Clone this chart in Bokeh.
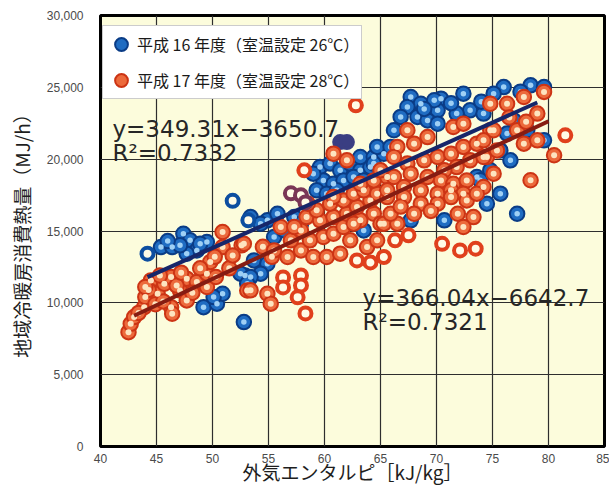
from bokeh.plotting import figure
from bokeh.models import (Range1d, NumeralTickFormatter, FixedTicker, Label,
                          Legend, LegendItem)
from bokeh.embed import file_html
from bokeh.resources import INLINE

# ---------------- data ----------------
x_ticks = [40, 45, 50, 55, 60, 65, 70, 75, 80, 85]
y_ticks = [0, 5000, 10000, 15000, 20000, 25000, 30000]

# 平成16年度 (blue)
h16_x = [45.4, 46.4, 47.4, 48.0, 48.6, 49.5, 47.7, 48.9, 47.1, 46.0,
         49.2, 50.4, 50.9, 50.1, 52.8, 52.9,
         53.4, 54.9, 55.8, 57.3, 57.9, 55.5, 56.4, 54.3, 53.7, 54.9, 54.3, 52.5, 53.4, 53.1,
         59.6, 60.5, 61.4, 62.3, 63.2, 64.1, 59.9, 60.8, 61.7, 62.6, 63.5, 59.3, 60.2,
         61.1, 63.2, 64.4, 59.0,
         63.5, 67.7, 70.7, 74.5,
         67.7, 68.6, 67.4, 70.4, 70.1, 72.4, 73.0, 71.8, 66.2, 66.8, 68.3, 69.2, 70.1,
         65.3, 64.7, 65.9, 64.4, 73.6, 69.8, 71.3, 68.9,
         76.0, 78.4, 79.6, 75.1, 74.2, 76.9, 78.1, 79.6, 76.3, 75.7, 76.6, 74.8, 75.7,
         77.2, 73.9, 77.5, 74.0]
h16_y = [13880, 13880, 14810, 14350, 13650, 14230, 13420, 14110, 14000, 14300,
         9700, 9940, 10630, 10400, 8660, 11910,
         15970, 15740, 16200, 15970, 15510, 14580, 15040, 15510, 12950, 12720, 12030, 12030, 11790, 11330,
         19450, 19690, 19220, 19690, 19220, 19450, 18520, 18290, 18520, 18760, 18520, 17830, 17600,
         17830, 20150, 20150, 18990,
         15040, 15740, 15740, 16900,
         24330, 23860, 23630, 24210, 23400, 24560, 23400, 23170, 22010, 22940, 22940, 22700, 22470,
         20380, 20850, 20850, 19690, 18760, 24100, 23900, 23500,
         25020, 25140, 25020, 24560, 23170, 22700, 22010, 21310, 21780, 20610, 19920, 19220, 17600,
         16200, 18530, 24700, 24000]

# 平成17年度 (red)
h17_x = [42.5, 42.7, 43.0, 43.9, 44.0, 44.5, 45.1, 45.7, 46.3, 46.3, 46.4, 47.1,
         47.7, 47.7, 48.6, 49.5, 49.5, 49.8, 50.9, 50.9, 52.6, 53.1, 44.9, 45.6,
         44.3, 45.3, 46.8, 47.2, 48.2, 48.9, 50.3, 51.5, 51.8, 50.2, 43.4, 44.0,
         53.4, 54.9, 55.2, 52.8, 54.5, 55.3, 55.5, 56.7, 57.9, 59.0, 60.2, 61.4,
         63.8, 62.3, 59.9, 60.8, 58.7, 57.0, 57.9, 56.1, 57.3, 58.4, 59.6, 60.8,
         61.7, 63.2, 64.4, 62.0, 62.9, 64.1, 59.3, 60.5, 61.7, 62.6, 63.5, 64.7,
         65.6, 58.5, 60.8, 63.2, 64.4, 65.6, 62.0, 60.8, 64.7, 65.0, 62.6,
         67.4, 69.2, 71.5, 72.4, 74.8, 74.8, 66.5, 68.0, 66.2, 67.4, 68.9, 70.1,
         71.3, 72.4, 73.6, 74.5, 73.0, 71.8, 70.7, 65.0, 66.2, 67.7, 69.2, 70.4,
         71.5, 72.7, 65.6, 67.1, 68.6, 70.1, 71.3, 72.4, 74.2,
         67.1, 68.6, 70.1, 71.3, 72.7, 73.6, 65.3, 66.5, 65.9, 71.9, 73.3, 72.4,
         66.8, 69.5, 68.0,
         79.6, 77.8, 76.3, 79.0, 75.1, 74.2, 77.2, 77.8, 79.0, 75.4, 74.2, 75.1,
         78.4, 80.5, 76.5, 78.0]
h17_y = [7960, 8540, 9010, 9700, 10400, 11560, 10630, 11330, 11790, 9700, 9240, 10860,
         11680, 10170, 11450, 11100, 12030, 12840, 14930, 13880, 14000, 10860, 9900, 10100,
         10900, 11900, 11200, 12100, 10700, 12400, 11800, 12400, 13300, 13200, 9300, 11100,
         10870, 10630, 9940, 14110, 13900, 13200, 13650, 13190, 13650, 13190, 13190, 13420,
         13880, 14350, 14580, 14810, 14350, 14350, 15040, 15280, 15280, 15970, 15740, 15970,
         15280, 15740, 16200, 16200, 16670, 17130, 16440, 16900, 17130, 17600, 17830, 17600,
         17360, 16900, 17370, 18290, 18520, 18760, 19920, 20380, 14350, 15510, 15510,
         22010, 21540, 22240, 22470, 23860, 22010, 20850, 21080, 20150, 19690, 19920, 20150,
         20380, 20850, 21080, 20150, 19920, 19450, 19220, 19220, 18760, 18990, 18760, 18520,
         18290, 18520, 17830, 18060, 17830, 17600, 17830, 17600, 18060,
         17360, 16900, 16900, 17360, 17130, 17600, 15510, 15510, 16200, 16200, 15970, 15280,
         16700, 16400, 16200,
         24680, 24330, 23860, 23170, 22010, 21310, 22010, 21080, 21310, 20610, 20150, 18990,
         18530, 20270, 22900, 22600]

# hollow (ring) points as they appear in the picture
h16_ring_x = [44.2, 51.8, 53.2]
h16_ring_y = [13420, 17100, 15740]
h17_ring_x = [62.8, 58.2, 56.3, 57.9, 56.3, 57.9, 57.6, 58.3, 62.9, 64.1, 65.3,
              66.3, 67.5, 70.5, 72.1, 73.5, 81.5]
h17_ring_y = [23750, 19220, 11770, 11910, 11070, 11210, 10380, 9260, 12950, 12810, 13190,
              14350, 14700, 14110, 13650, 13770, 21660]
navy_ring_x = [61.4, 62.0]
navy_ring_y = [21190, 21190]
maroon_ring_x = [57.0, 57.9, 58.3]
maroon_ring_y = [17620, 17480, 16990]

# regression results shown in the chart
fit16_slope, fit16_icpt, fit16_r2 = 349.31, -3650.7, 0.7332
fit17_slope, fit17_icpt, fit17_r2 = 366.04, -6642.7, 0.7321
fit16_span = [44.2, 79.0]
fit17_span = [43.0, 80.0]

label16 = "平成 16 年度（室温設定 26℃）"
label17 = "平成 17 年度（室温設定 28℃）"
x_title = "外気エンタルピ［kJ/kg］"
y_title = "地域冷暖房消費熱量（MJ/h）"

# ---------------- figure ----------------
CJK = "Noto Sans CJK JP"
p = figure(width=609, height=488, output_backend="svg", toolbar_location=None,
           x_range=Range1d(40, 85), y_range=Range1d(0, 30000),
           min_border_left=100, min_border_right=5, min_border_top=15,
           min_border_bottom=42)
p.background_fill_color = "#fcfcdc"
p.border_fill_color = "white"
p.outline_line_color = "black"
p.outline_line_width = 3

p.xaxis.ticker = FixedTicker(ticks=x_ticks)
p.yaxis.ticker = FixedTicker(ticks=y_ticks)
p.yaxis.formatter = NumeralTickFormatter(format="0,0")
for ax in (p.xaxis, p.yaxis):
    ax.axis_line_color = None
    ax.major_tick_line_color = None
    ax.minor_tick_line_color = None
    ax.major_label_text_font = "Liberation Sans"
    ax.major_label_text_font_size = "12px"
    ax.major_label_text_color = "#4a4a4a"
    ax.axis_label_text_font = CJK
    ax.axis_label_text_font_style = "normal"
    ax.axis_label_text_font_size = "19px"
    ax.axis_label_text_color = "#1e1e1e"
p.xaxis.axis_label = x_title
p.yaxis.axis_label = y_title
p.xaxis.major_label_standoff = 1
p.xaxis.axis_label_standoff = -8
p.yaxis.major_label_standoff = 11
p.yaxis.axis_label_standoff = 9

p.grid.grid_line_color = "#2e2e2e"
p.grid.grid_line_width = 1.2
p.xgrid.ticker = FixedTicker(ticks=x_ticks)
p.ygrid.ticker = FixedTicker(ticks=y_ticks)

BALL = 14.5
# blue balls
b_outer = p.scatter(h16_x, h16_y, marker="circle", size=BALL, fill_color="#1f6cc2",
                    line_color="#0a3c86", line_width=2)
p.scatter(h16_x, h16_y, marker="circle", size=5.5, fill_color="#9fd0f5", line_color=None)
p.scatter(h16_ring_x, h16_ring_y, marker="circle", size=12, fill_color="#fffbe6",
          line_color="#0d4ea0", line_width=4)
p.scatter(navy_ring_x, navy_ring_y, marker="circle", size=13, fill_color="#3a3e82",
          line_color="#3a3e82", line_width=3)

# red balls
r_outer = p.scatter(h17_x, h17_y, marker="circle", size=BALL, fill_color="#ec6a3c",
                    line_color="#cc3414", line_width=2)
p.scatter(h17_x, h17_y, marker="circle", size=6, fill_color="#fde4c0", line_color=None)
p.scatter(h17_ring_x, h17_ring_y, marker="circle", size=12, fill_color="#fffbe6",
          line_color="#e0401c", line_width=4)
p.scatter(maroon_ring_x, maroon_ring_y, marker="circle", size=12, fill_color="#fffbe6",
          line_color="#7a3656", line_width=4)

# regression lines
p.line(fit16_span, [fit16_slope * v + fit16_icpt for v in fit16_span],
       line_color="#16266a", line_width=4)
p.line(fit17_span, [fit17_slope * v + fit17_icpt for v in fit17_span],
       line_color="#861c12", line_width=4)

# equations
def add_text(x, y, txt):
    p.add_layout(Label(x=x, y=y, text=txt, text_font="DejaVu Sans",
                       text_font_size="23px", text_color="#262626",
                       text_baseline="alphabetic"))

add_text(41.07, 22080, "y=%.2fx−%.1f" % (fit16_slope, -fit16_icpt))
add_text(41.07, 20400, "R²=%.4f" % fit16_r2)
add_text(63.4, 10310, "y=%.2fx−%.1f" % (fit17_slope, -fit17_icpt))
add_text(63.4, 8640, "R²=%.4f" % fit17_r2)

legend = Legend(items=[LegendItem(label=label16, renderers=[b_outer]),
                       LegendItem(label=label17, renderers=[r_outer])],
                location=(2, 347), margin=0, padding=2, spacing=4,
                glyph_width=32, glyph_height=32, label_standoff=0,
                label_text_font=CJK, label_text_font_size="16px",
                label_text_color="#1a1a1a", border_line_color="#9a9a9a",
                border_line_width=1, background_fill_color="white",
                background_fill_alpha=1)
p.add_layout(legend)

open("out.html", "w").write(file_html(p, INLINE))
